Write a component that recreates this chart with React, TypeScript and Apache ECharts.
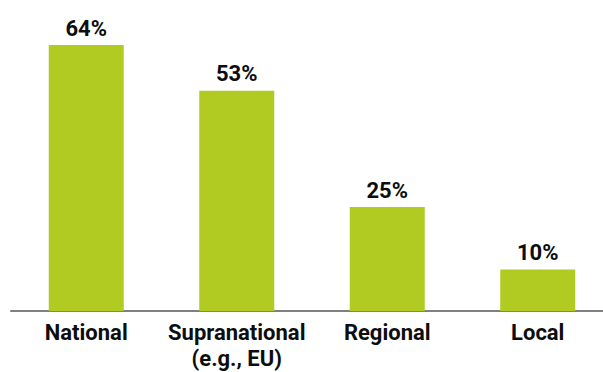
import React, { useEffect, useRef } from "react";
import * as echarts from "echarts";

const categories = ["National", "Supranational\n(e.g., EU)", "Regional", "Local"];
const values = [64, 53, 25, 10];

export default function App() {
  const ref = useRef<HTMLDivElement>(null);
  useEffect(() => {
    const chart = echarts.init(ref.current!, null, { renderer: "svg" });
    chart.setOption({
      animation: false,
      grid: { left: 11, right: 12, top: 45, bottom: 61, containLabel: false },
      xAxis: {
        type: "category",
        data: categories,
        axisLine: { lineStyle: { color: "#808080", width: 2 } },
        axisTick: { show: false },
        axisLabel: {
          color: "#0d0d0d",
          fontFamily: "Roboto",
          fontWeight: "bold",
          fontSize: 22,
          lineHeight: 26,
          margin: 8,
          interval: 0,
        },
      },
      yAxis: { type: "value", min: 0, max: 64, show: false, splitLine: { show: false } },
      series: [
        {
          type: "bar",
          data: values,
          barWidth: 75,
          itemStyle: { color: "#b2cb22" },
          label: {
            show: true,
            position: "top",
            distance: 6,
            formatter: "{c}%",
            color: "#0d0d0d",
            fontFamily: "Roboto",
            fontWeight: "bold",
            fontSize: 22,
          },
        },
      ],
    });
    return () => chart.dispose();
  }, []);
  return (
    <div
      style={{ position: "absolute", left: 0, top: 0, width: 603, height: 372, overflow: "hidden", background: "#fff" }}
    >
      <div ref={ref} style={{ width: 625, height: 372 }} />
    </div>
  );
}
